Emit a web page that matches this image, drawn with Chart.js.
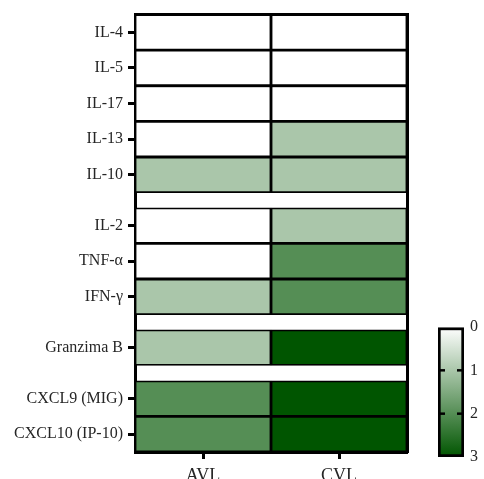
<!DOCTYPE html>
<html>
<head>
<meta charset="utf-8">
<script src="https://cdn.jsdelivr.net/npm/chart.js@4/dist/chart.umd.min.js"></script>
<style>
  html, body { margin: 0; padding: 0; background: #fff; overflow: hidden; width: 484px; height: 479px; }
  #wrap { position: relative; width: 484px; height: 479px; overflow: hidden; }
  #heat { position: absolute; left: 0; top: 0; }
  #bar { position: absolute; left: 420px; top: 310px; }
</style>
</head>
<body>
<div id="wrap">
  <canvas id="heat" width="484" height="490"></canvas>
  <canvas id="bar" width="64" height="165"></canvas>
</div>
<script>
// Cytokine / chemokine scores per group
const columns = ['AVL', 'CVL'];
const rowLabels = ['IL-4', 'IL-5', 'IL-17', 'IL-13', 'IL-10', 'IL-2', 'TNF-α', 'IFN-γ', 'Granzima B', 'CXCL9 (MIG)', 'CXCL10 (IP-10)'];
const rowGroup = [0, 0, 0, 0, 0, 1, 1, 1, 2, 3, 3];
const avlValues = [0, 0, 0, 0, 1, 0, 0, 1, 1, 2, 2];
const cvlValues = [0, 0, 0, 1, 1, 1, 2, 2, 3, 3, 3];
const scaleTicks = [0, 1, 2, 3];

const SCALE_MAX = 3;
const GROUP_GAP = 0.43;
const SERIF = '"Liberation Serif", "Times New Roman", serif';
const TEXT = '#262626';

// white -> dark green colour ramp
function colorFor(v) {
  const t = Math.max(0, Math.min(1, v / SCALE_MAX));
  const r = Math.round(255 * (1 - t));
  const g = Math.round(255 + (85 - 255) * t);
  const b = Math.round(255 * (1 - t));
  return `rgb(${r},${g},${b})`;
}

const rowStart = rowLabels.map((_, i) => i + rowGroup[i] * GROUP_GAP);
const total = rowLabels.length + rowGroup[rowGroup.length - 1] * GROUP_GAP;

const datasets = rowLabels.map((label, i) => ({
  label,
  data: [[rowStart[i], rowStart[i] + 1], [rowStart[i], rowStart[i] + 1]],
  backgroundColor: [colorFor(avlValues[i]), colorFor(cvlValues[i])],
  borderColor: '#000',
  borderWidth: 1.75,
  borderSkipped: false,
  grouped: false,
  barPercentage: 1,
  categoryPercentage: 1,
  xAxisID: 'x',
  yAxisID: 'y'
}));

new Chart(document.getElementById('heat'), {
  type: 'bar',
  data: { labels: columns, datasets },
  options: {
    responsive: false,
    animation: false,
    layout: { padding: { left: 0, top: 13, right: 77, bottom: 0 } },
    plugins: { legend: { display: false }, tooltip: { enabled: false } },
    scales: {
      x: {
        type: 'category',
        position: 'bottom',
        offset: true,
        grid: { offset: false, drawOnChartArea: false, drawTicks: true, tickLength: 7, tickWidth: 3, tickColor: '#000' },
        border: { display: true, width: 3, color: '#000' },
        ticks: { color: TEXT, font: { family: SERIF, size: 18 }, padding: 6, maxRotation: 0 },
        afterFit: s => { s.height = 38; }
      },
      xTop: {
        type: 'category',
        position: 'top',
        offset: true,
        grid: { drawOnChartArea: false, drawTicks: false },
        border: { display: true, width: 3, color: '#000' },
        ticks: { display: false },
        afterFit: s => { s.height = 0; }
      },
      y: {
        type: 'linear',
        position: 'left',
        min: 0,
        max: total,
        reverse: true,
        afterBuildTicks: s => { s.ticks = rowStart.map(v => ({ value: v + 0.5 })); },
        grid: { drawOnChartArea: false, drawTicks: true, tickLength: 7, tickWidth: 3, tickColor: '#000' },
        border: { display: true, width: 3, color: '#000' },
        ticks: {
          autoSkip: false,
          color: TEXT,
          font: { family: SERIF, size: 16 },
          padding: 5,
          callback: (v, i) => rowLabels[i]
        },
        afterFit: s => { s.width = 135; }
      },
      yRight: {
        type: 'linear',
        position: 'right',
        min: 0,
        max: total,
        reverse: true,
        grid: { drawOnChartArea: false, drawTicks: false },
        border: { display: true, width: 3, color: '#000' },
        ticks: { display: false },
        afterFit: s => { s.width = 0; }
      }
    }
  }
});

// Colour scale bar; short marks on both edges at the inner integer ticks
const innerTicks = scaleTicks.filter(v => v > 0 && v < SCALE_MAX);
const edgeMarks = innerTicks.flatMap(v => [{ x: 0, y: v }, { x: 1, y: v }]);

new Chart(document.getElementById('bar'), {
  type: 'bar',
  data: {
    labels: [''],
    datasets: [{
      type: 'line',
      data: edgeMarks,
      xAxisID: 'xl',
      yAxisID: 'y',
      showLine: false,
      pointStyle: 'line',
      pointRadius: 7,
      pointBorderWidth: 2.5,
      pointBorderColor: '#000',
      clip: 0,
      order: 0
    }, {
      type: 'bar',
      data: [[0, SCALE_MAX]],
      xAxisID: 'x',
      yAxisID: 'y',
      backgroundColor: (ctx) => {
        const chart = ctx.chart;
        const area = chart.chartArea;
        if (!area) return colorFor(1.5);
        const ys = chart.scales.y;
        const g = chart.ctx.createLinearGradient(0, ys.getPixelForValue(0), 0, ys.getPixelForValue(SCALE_MAX));
        g.addColorStop(0, colorFor(0));
        g.addColorStop(1, colorFor(SCALE_MAX));
        return g;
      },
      borderColor: '#000',
      borderWidth: 3,
      borderSkipped: false,
      grouped: false,
      barPercentage: 1,
      categoryPercentage: 1,
      order: 1
    }]
  },
  options: {
    responsive: false,
    animation: false,
    layout: { padding: { left: 18, top: 17, right: 0, bottom: 18 } },
    plugins: { legend: { display: false }, tooltip: { enabled: false } },
    scales: {
      x: { type: 'category', display: false, offset: true, min: 0, max: 0 },
      xl: { type: 'linear', display: false, min: 0, max: 1, offset: false },
      y: {
        position: 'right',
        min: 0,
        max: SCALE_MAX,
        reverse: true,
        afterBuildTicks: s => { s.ticks = scaleTicks.map(v => ({ value: v })); },
        grid: { drawOnChartArea: false, drawTicks: false },
        border: { display: false },
        ticks: { color: TEXT, font: { family: SERIF, size: 16 }, padding: 6, callback: v => String(v) },
        afterFit: s => { s.width = 20; }
      }
    }
  }
});
</script>
</body>
</html>
